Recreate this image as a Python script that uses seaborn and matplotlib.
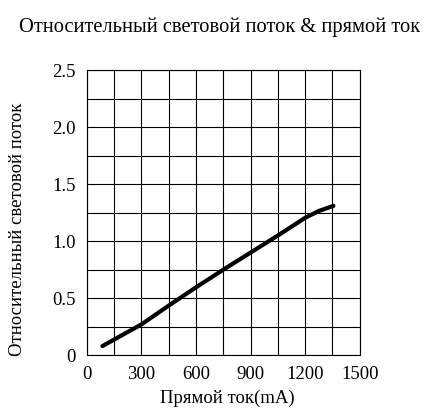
import matplotlib
matplotlib.use("Agg")
import matplotlib.pyplot as plt
import seaborn as sns
import pandas as pd
import numpy as np

current_ma = [86, 300, 450, 600, 750, 900, 1050, 1200, 1275, 1355]
rel_flux = [0.08, 0.27, 0.435, 0.595, 0.75, 0.90, 1.05, 1.205, 1.265, 1.31]
x_ticks = [0, 300, 600, 900, 1200, 1500]
y_ticks = [0, 0.5, 1.0, 1.5, 2.0, 2.5]
y_tick_labels = ["0", "0.5", "1.0", "1.5", "2.0", "2.5"]

title = "Относительный световой поток & прямой ток"
xlabel = "Прямой ток(mA)"
ylabel = "Относительный световой поток"

sns.set_style("white")
plt.rcParams['font.family'] = ['Liberation Serif', 'DejaVu Serif']

df = pd.DataFrame({"current": current_ma, "flux": rel_flux})

fig = plt.figure(figsize=(4.34, 4.13), dpi=100)
ax = fig.add_axes([0.2, 0.14, 0.629, 0.69])
sns.lineplot(data=df, x="current", y="flux", ax=ax, color="black", linewidth=3)

ax.set_xlim(0, 1500)
ax.set_ylim(0, 2.5)
ax.set_xticks(np.arange(0, 1501, 150), minor=True)
ax.set_yticks(np.arange(0, 2.51, 0.25), minor=True)
ax.set_xticks(x_ticks)
ax.set_yticks(y_ticks)
ax.set_yticklabels(y_tick_labels)
ax.grid(True, which="both", color="black", linewidth=0.8)
ax.tick_params(which="both", length=0, labelsize=13.5, colors="black", pad=8)
for s in ax.spines.values():
    s.set_color("black")
    s.set_linewidth(0.8)

ax.set_xlabel(xlabel, fontsize=13.5, color="black")
ax.set_ylabel(ylabel, fontsize=13.5, color="black")
ax.xaxis.set_label_coords(0.516, -0.122)
ax.yaxis.set_label_coords(-0.222, 0.44)
fig.text(0.505, 0.935, title, ha="center", va="center", fontsize=14.8, color="black")

fig.savefig("out.png", dpi=100)
